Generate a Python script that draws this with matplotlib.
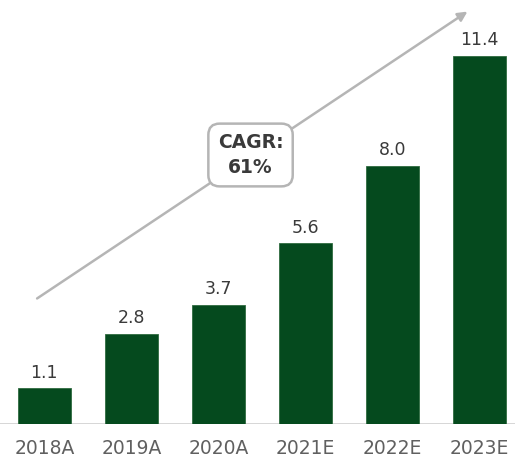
import matplotlib
matplotlib.use("Agg")
import matplotlib.pyplot as plt

categories = ["2018A", "2019A", "2020A", "2021E", "2022E", "2023E"]
values = [1.1, 2.8, 3.7, 5.6, 8.0, 11.4]
value_labels = ["1.1", "2.8", "3.7", "5.6", "8.0", "11.4"]
cagr_text = "CAGR:\n61%"

plt.rcParams['font.family'] = ['DejaVu Sans']

fig = plt.figure(figsize=(5.15, 4.65), dpi=100)
ax = fig.add_axes([0, 0.0882, 1, 0.9118])
x = list(range(len(categories)))
ax.bar(x, values, width=0.61, color="#054a1e", edgecolor="#2f6b40", linewidth=0.6, zorder=2)
for xi, v, lab in zip(x, values, value_labels):
    ax.text(xi, v + 0.2, lab, ha="center", va="bottom", fontsize=12.5, color="#3a3a3a")

ax.set_xlim(-0.51, 5.41)
ax.set_ylim(0, 13.13)
ax.axhline(0, color="#d0d0d0", linewidth=1.2, zorder=1)
for s in ax.spines.values():
    s.set_visible(False)
ax.set_yticks([])
ax.set_xticks(x)
ax.set_xticklabels(categories, fontsize=13.5, color="#606060")
ax.tick_params(axis="x", length=0, pad=11)

ax.annotate("", xy=(4.89, 12.82), xytext=(-0.11, 3.84),
            arrowprops=dict(arrowstyle="-|>", color="#b5b5b5", lw=1.8, mutation_scale=14), zorder=3)
ax.text(2.37, 8.33, cagr_text, ha="center", va="center", fontsize=13.5, fontweight="bold",
        color="#3a3a3a", linespacing=1.4, zorder=4,
        bbox=dict(boxstyle="round,pad=0.5,rounding_size=0.6", fc="white", ec="#b5b5b5", lw=1.8))

fig.savefig("out.png", dpi=100)
